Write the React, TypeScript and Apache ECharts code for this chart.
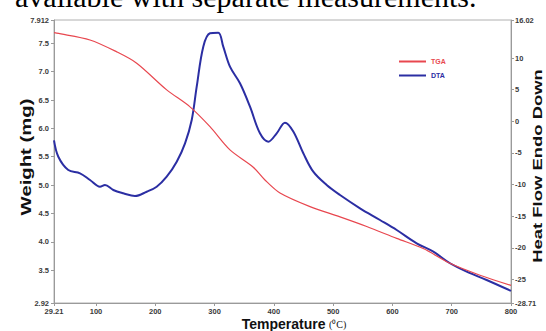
import React, { useEffect, useRef } from "react";
import * as echarts from "echarts";

const tgaTemp = [29.21, 33.8, 89.9, 135, 168.7, 219.3, 258.6, 292.3, 326, 364.8, 385, 410.4, 461, 511.6, 556.6, 607.2, 652, 697.1, 747.7, 800];
const tgaWeight = [7.69, 7.68, 7.56, 7.35, 7.15, 6.68, 6.38, 6.03, 5.62, 5.32, 5.09, 4.86, 4.62, 4.44, 4.27, 4.06, 3.88, 3.62, 3.41, 3.23];

const dtaTemp = [29.21, 36.5, 53.3, 73.1, 89.9, 106.8, 115.2, 129.2, 146.1, 165.8, 185.6, 202.4, 219.3, 236.2, 250.2, 261.5, 269.9, 281, 292.3, 306.3, 314.7, 326, 342.9, 359.8, 376.6, 390.7, 404.8, 418.8, 432.8, 449.7, 466.5, 489.1, 511.6, 545.3, 579, 607.2, 640.9, 669, 697.1, 725.2, 758.9, 800];
const dtaHeat = [-3.0, -5.59, -7.69, -8.21, -9.27, -10.33, -10.06, -10.85, -11.37, -11.8, -11.12, -10.33, -8.75, -6.38, -3.47, 0.22, 5.48, 11.8, 13.92, 14.01, 11.8, 8.64, 6.02, 2.32, -1.89, -3.21, -1.89, -0.21, -1.6, -5.05, -7.96, -10.06, -11.64, -13.74, -15.59, -17.17, -19.27, -20.6, -22.43, -23.76, -25.07, -26.8];

const xTicks = [29.21, 100, 200, 300, 400, 500, 600, 700, 800];
const weightTicks = [2.92, 3.5, 4.0, 4.5, 5.0, 5.5, 6.0, 6.5, 7.0, 7.5, 7.912];
const heatTicks = [-28.71, -25, -20, -15, -10, -5, 0, 5, 10, 16.02];

const seriesNames = ["TGA", "DTA"];
const seriesColors = ["#e8474f", "#2b2ea3"];

const labelFont = {
  fontFamily: "Liberation Sans, Arial, sans-serif",
  fontSize: 7.5,
  fontWeight: "bold" as const,
  color: "#3a3a3a",
};

export default function App() {
  const ref = useRef<HTMLDivElement>(null);
  useEffect(() => {
    document.body.style.margin = "0";
    const chart = echarts.init(ref.current!, null, { renderer: "svg" });
    const axisLine = { show: true, onZero: false, lineStyle: { color: "#9a9a9a", width: 1 } };
    const axisTick = (vals: number[]) => ({ show: true, length: 3, customValues: vals, lineStyle: { color: "#9a9a9a" } });
    chart.setOption({
      animation: false,
      backgroundColor: "#ffffff",
      grid: { left: 54, right: 35, top: 20, bottom: 28, show: true, borderColor: "#b0b0b0", borderWidth: 1 },
      legend: {
        orient: "vertical",
        left: 394,
        top: 53,
        itemWidth: 27,
        itemHeight: 2,
        itemGap: 7,
        icon: "rect",
        data: seriesNames.map((n, i) => ({ name: n, textStyle: { color: seriesColors[i], fontSize: 7, fontWeight: "bold", fontFamily: "Liberation Sans, Arial, sans-serif" } })),
      },
      xAxis: {
        type: "value",
        min: 29.21,
        max: 800,
        axisLine,
        axisTick: axisTick(xTicks),
        splitLine: { show: false },
        axisLabel: {
          ...labelFont,
          margin: 4,
          customValues: xTicks,
          formatter: (v: number) => String(v),
        },
      },
      yAxis: [
        {
          type: "value",
          min: 2.92,
          max: 7.912,
          position: "left",
          axisLine,
          axisTick: axisTick(weightTicks),
          splitLine: { show: false },
          axisLabel: {
            ...labelFont,
            margin: 5,
            customValues: weightTicks,
            formatter: (v: number) => (v === 2.92 ? "2.92" : v === 7.912 ? "7.912" : v.toFixed(1)),
          },
        },
        {
          type: "value",
          min: -28.71,
          max: 16.02,
          position: "right",
          axisLine,
          axisTick: axisTick(heatTicks),
          splitLine: { show: false },
          axisLabel: {
            ...labelFont,
            margin: 4,
            customValues: heatTicks,
            formatter: (v: number) => String(v),
          },
        },
      ],
      series: [
        {
          name: seriesNames[0],
          type: "line",
          yAxisIndex: 0,
          data: tgaTemp.map((t, i) => [t, tgaWeight[i]]),
          showSymbol: false,
          smooth: 0.3,
          lineStyle: { color: seriesColors[0], width: 1.2 },
          itemStyle: { color: seriesColors[0] },
          z: 3,
        },
        {
          name: seriesNames[1],
          type: "line",
          yAxisIndex: 1,
          data: dtaTemp.map((t, i) => [t, dtaHeat[i]]),
          showSymbol: false,
          smooth: 0.35,
          lineStyle: { color: seriesColors[1], width: 2 },
          itemStyle: { color: seriesColors[1] },
          z: 2,
        },
      ],
      graphic: [
        {
          type: "text",
          x: 15,
          y: -4,
          style: {
            text: "available with separate measurements.",
            font: "30px 'Liberation Serif', 'Times New Roman', serif",
            fill: "#000",
            align: "left",
            verticalAlign: "middle",
          },
        },
        {
          type: "text",
          x: 26,
          y: 157,
          rotation: Math.PI / 2,
          scaleX: 1.45,
          style: {
            text: "Weight (mg)",
            font: "bold 14px 'Liberation Sans', Arial, sans-serif",
            fill: "#111",
            align: "center",
            verticalAlign: "middle",
          },
        },
        {
          type: "text",
          x: 538,
          y: 166,
          rotation: Math.PI / 2,
          scaleX: 1.42,
          style: {
            text: "Heat Flow Endo Down",
            font: "bold 13px 'Liberation Sans', Arial, sans-serif",
            fill: "#111",
            align: "center",
            verticalAlign: "middle",
          },
        },
        {
          type: "text",
          x: 294,
          y: 324,
          style: {
            text: "{a|Temperature} {b|(⁰C)}",
            align: "center",
            verticalAlign: "middle",
            rich: {
              a: { fontFamily: "Liberation Sans, Arial, sans-serif", fontWeight: "bold", fontSize: 14, fill: "#111" },
              b: { fontFamily: "Liberation Serif, serif", fontSize: 10, fill: "#111" },
            },
          },
        },
      ],
    });
    return () => chart.dispose();
  }, []);
  return <div ref={ref} style={{ width: 546, height: 331 }} />;
}
